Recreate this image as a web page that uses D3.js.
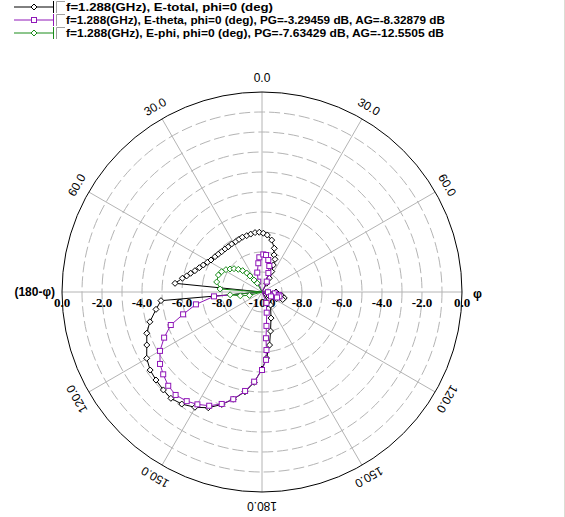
<!DOCTYPE html>
<html>
<head>
<meta charset="utf-8">
<script src="https://d3js.org/d3.v7.min.js"></script>
<style>
  body { margin: 0; background: #fff; }
</style>
</head>
<body>
<svg id="chart"></svg>
<script>
// ---- data (theta in deg clockwise from top, value in dB) ----
var thetaTotal = [-180, -175.1, -170.3, -165, -160.3, -155.1, -149.8, -144.4, -139.4, -134.8,
    -129.7, -124.9, -119.9, -114.7, -109.7, -104.9, -99.3, -94.9, -90,
    -84.3, -80.2, -77.9, -75.3, -72.4, -68.8, -65.3, -61.5, -57.9, -53.1, -49.2, -45,
    -40.7, -36.6, -32.3, -27.6, -23.6, -19.8, -15.2, -11, -6.7, -2.6, 1.3, 5.3, 10.6,
    15.7, 18, 21.7, 22.7, 25.5, 28, 28.4, 40, 90, 100, 105, 110, 115, 120, 135,
    146.8, 160.9, 167.7, 171.9, 176.1, 180];
var dbTotal = [-6.15, -5.47, -4.94, -4.45, -4.03, -3.62, -3.33, -3.11, -3.0, -3.05,
    -3.11, -3.18, -3.35, -3.66, -3.88, -4.2, -4.63, -4.93, -15,
    -5.63, -5.96, -6.15, -6.31, -6.48, -6.64, -6.77, -6.89, -6.99, -7.06, -7.11, -7.15,
    -7.16, -7.18, -7.16, -7.16, -7.13, -7.09, -7.08, -7.05, -7.01, -7.01, -7.06, -7.14, -7.36,
    -7.73, -8.05, -8.24, -8.54, -8.87, -9.22, -9.5, -15, -9.3, -9.0, -8.85, -8.9, -9.2, -9.6, -15,
    -9.22, -8.62, -8.0, -7.32, -6.69, -6.15];

var thetaTheta = [-180, -175, -170.3, -165, -160.2, -155.1, -150.1, -145.4, -140, -135,
    -129.8, -125.2, -120, -115, -109.9, -105.8, -100.6, -95.2, -90, -30,
    -19.8, -13.7, -7.3, -4.4, 2, 6.2, 11.1, 15.7, 18.6, 24.5, 35,
    92, 96, 100, 104, 110, 116, 125,
    157.8, 167.2, 172.5, 175.1, 175.6, 176.6, 180];
var dbTheta = [-6.1, -5.5, -4.98, -4.45, -4.05, -3.73, -3.52, -3.37, -3.28, -3.37,
    -3.57, -3.76, -4.11, -4.6, -5.15, -5.9, -6.64, -7.59, -15, -15,
    -9.45, -9.0, -8.55, -8.26, -8.12, -8.14, -8.37, -8.65, -9.0, -9.43, -15,
    -9.7, -9.35, -9.15, -9.1, -9.2, -9.5, -15,
    -9.41, -8.94, -8.29, -7.68, -7.09, -6.6, -6.1];

var thetaPhi = [-180, -110, -105, -100, -95, -90, -85.9, -77.5, -68.7, -63.3, -58.2, -54.3,
    -50.2, -46.2, -42.2, -38.8, -36.9, -33.7, -28.4, -20, 180];
var dbPhi = [-15, -15, -9.35, -8.9, -8.4, -15, -7.9, -7.68, -7.66, -7.74, -7.88, -8.03,
    -8.18, -8.36, -8.56, -8.78, -9.0, -9.28, -9.5, -15, -15];

var legendLabels = [
    "f=1.288(GHz), E-total, phi=0 (deg)",
    "f=1.288(GHz), E-theta, phi=0 (deg), PG=-3.29459 dB, AG=-8.32879 dB",
    "f=1.288(GHz), E-phi, phi=0 (deg), PG=-7.63429 dB, AG=-12.5505 dB"
];
var radialTicks = [-10, -8, -6, -4, -2, 0];
var angleTicks = [30, 60, 120, 150, 180];

// ---- layout ----
var width = 565, height = 517;
var cx = 262, cy = 292, R = 200;

var svg = d3.select("#chart")
    .attr("width", width)
    .attr("height", height)
    .style("font-family", "'Liberation Sans', Arial, sans-serif");

var r = d3.scaleLinear().domain([-10, 0]).range([0, R]).clamp(true);
var rad = function(d) { return d * Math.PI / 180; };

var g = svg.append("g").attr("transform", "translate(" + cx + "," + cy + ")");

// rings every 1 dB
g.selectAll("circle.ring")
    .data(d3.range(-9, 0))
    .enter().append("circle")
    .attr("r", function(d) { return r(d); })
    .attr("fill", "none")
    .attr("stroke", "#b4b4b4")
    .attr("stroke-dasharray", "11,4");

// spokes every 30 deg
g.selectAll("line.spoke")
    .data(d3.range(0, 360, 30))
    .enter().append("line")
    .attr("x1", 0).attr("y1", 0)
    .attr("x2", function(d) { return R * Math.sin(rad(d)); })
    .attr("y2", function(d) { return -R * Math.cos(rad(d)); })
    .attr("stroke", "#b4b4b4");

g.append("circle").attr("r", R).attr("fill", "none").attr("stroke", "#000");

// radial labels on both sides
radialTicks.forEach(function(t) {
    [-1, 1].forEach(function(s) {
        if (t === -10 && s < 0) return;
        g.append("text")
            .attr("x", s * r(t))
            .attr("y", 15)
            .attr("text-anchor", "middle")
            .style("font-family", "'Liberation Serif', 'Times New Roman', serif")
            .style("font-weight", "bold")
            .style("font-size", "13px")
            .text(t.toFixed(1));
    });
});

// angle labels
var labR = 214;
g.append("text").attr("x", 0).attr("y", -labR).attr("dy", "0.35em")
    .attr("text-anchor", "middle").style("font-size", "12px").text("0.0");
angleTicks.forEach(function(a) {
    [-1, 1].forEach(function(s) {
        if (a === 180 && s < 0) return;
        var ang = s * a;
        var x = labR * Math.sin(rad(ang)), y = -labR * Math.cos(rad(ang));
        g.append("text")
            .attr("transform", "translate(" + x + "," + y + ") rotate(" + ang + ")")
            .attr("dy", "0.35em")
            .attr("text-anchor", "middle")
            .style("font-size", "12px")
            .text(a.toFixed(1));
    });
});
svg.append("text").attr("x", 55).attr("y", 296).attr("text-anchor", "end")
    .style("font-weight", "bold").style("font-size", "12px").text("(180-\u03c6)");
svg.append("text").attr("x", 473).attr("y", 298)
    .style("font-weight", "bold").style("font-size", "12.5px").text("\u03c6");

// ---- traces ----
var series = [
    { th: thetaTotal, db: dbTotal, color: "#000000", shape: "diamond" },
    { th: thetaTheta, db: dbTheta, color: "#9018b8", shape: "square" },
    { th: thetaPhi, db: dbPhi, color: "#1a8c1a", shape: "diamond" }
];

var line = d3.lineRadial()
    .angle(function(d) { return rad(d[0]); })
    .radius(function(d) { return r(d[1]); });

function marker(sel, shape, color) {
    if (shape === "square") {
        sel.append("rect").attr("x", -2.5).attr("y", -2.5).attr("width", 5).attr("height", 5)
            .attr("fill", "#fff").attr("stroke", color);
    } else {
        sel.append("path").attr("d", "M0,-3L3,0L0,3L-3,0Z")
            .attr("fill", "#fff").attr("stroke", color);
    }
}

series.forEach(function(s) {
    var pts = s.th.map(function(t, i) { return [t, s.db[i]]; });
    g.append("path")
        .datum(pts)
        .attr("d", line)
        .attr("fill", "none")
        .attr("stroke", s.color)
        .attr("stroke-width", 1);
    var m = g.selectAll(null)
        .data(pts.filter(function(p) { return p[1] > -10; }))
        .enter().append("g")
        .attr("transform", function(p) {
            var rr = r(p[1]);
            return "translate(" + (rr * Math.sin(rad(p[0]))) + "," + (-rr * Math.cos(rad(p[0]))) + ")";
        });
    marker(m, s.shape, s.color);
});

// ---- legend ----
var lengths = [207, 379, 378];
series.forEach(function(s, i) {
    var y = 7 + i * 13;
    var lg = svg.append("g");
    lg.append("line").attr("x1", 14).attr("x2", 53).attr("y1", y).attr("y2", y).attr("stroke", s.color);
    lg.append("line").attr("x1", 53.5).attr("x2", 53.5).attr("y1", y - 6).attr("y2", y + 6).attr("stroke", s.color);
    var mk = lg.append("g").attr("transform", "translate(34," + y + ")");
    marker(mk, s.shape, s.color);
    lg.append("path").attr("d", "M56.5," + (y + 6) + "V" + (y - 5.5) + "H65")
        .attr("fill", "none").attr("stroke", "#a0a0a0");
    lg.append("text").attr("x", 66).attr("y", y + 4)
        .attr("textLength", lengths[i]).attr("lengthAdjust", "spacingAndGlyphs")
        .style("font-weight", "bold").style("font-size", "11px")
        .text(legendLabels[i]);
});

svg.append("line").attr("x1", 564.5).attr("x2", 564.5).attr("y1", 0).attr("y2", height)
    .attr("stroke", "#dcdcd4");
</script>
</body>
</html>
